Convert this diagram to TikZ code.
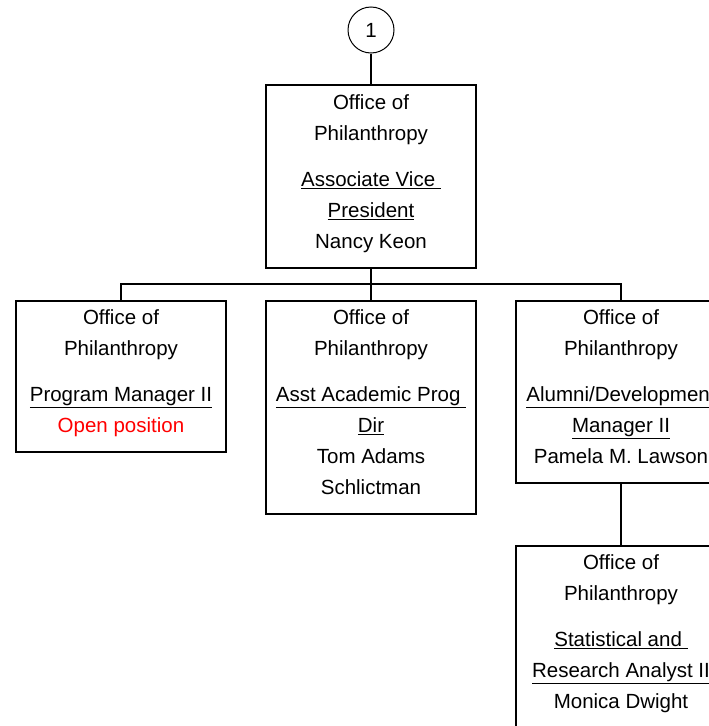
\documentclass[tikz,border=0pt]{standalone}
\usepackage{fontspec}
\setmainfont{Liberation Sans}
\usepackage{tikz}
\usetikzlibrary{positioning}

\tikzset{
	office/.style={draw, line width=1.6pt, rectangle, anchor=north, minimum width=210pt, inner sep=0pt, text depth=10pt, align=center, font=\fontsize{20.5}{31}\selectfont},
	pagecircle/.style={draw, line width=1pt, circle, minimum size=46pt, inner sep=0pt, font=\fontsize{20.5}{25}\selectfont},
	link/.style={line width=1.6pt}
}

\begin{document}
\begin{tikzpicture}[x=1pt,y=-1pt]
		\clip (0,0) rectangle (709,726);

		\node[pagecircle] (page) at (371,30) {1};

		\node[office, minimum height=183pt] (avp) at (371,84) {Office of\\ Philanthropy\\[15pt] \underline{Associate Vice\ }\\ \underline{President}\\ Nancy Keon};

		\node[office, minimum height=151pt] (pm) at (121,300) {Office of\\ Philanthropy\\[15pt] \underline{Program Manager II}\\ \textcolor{red}{Open position}};
		\node[office, minimum height=213pt] (aapd) at (371,300) {Office of\\ Philanthropy\\[15pt] \underline{Asst Academic Prog\ }\\ \underline{Dir}\\ Tom Adams\\ Schlictman};
		\node[office, minimum height=182pt] (adm) at (621,300) {Office of\\ Philanthropy\\[15pt] \underline{Alumni/Development}\\ \underline{Manager II}\\ Pamela M. Lawson};

		\node[office, minimum height=182pt] (sra) at (621,545) {Office of\\ Philanthropy\\[15pt] \underline{Statistical and\ }\\ \underline{Research Analyst II}\\ Monica Dwight};

		\coordinate (bus) at (371,284);

		\draw[link] (page) -- (avp);
		\draw[link] (avp.south) -- (bus);
		\draw[link] (bus) -| (pm.north);
		\draw[link] (bus) -- (aapd.north);
		\draw[link] (bus) -| (adm.north);
		\draw[link] (adm.south) -- (sra.north);
\end{tikzpicture}
\end{document}
